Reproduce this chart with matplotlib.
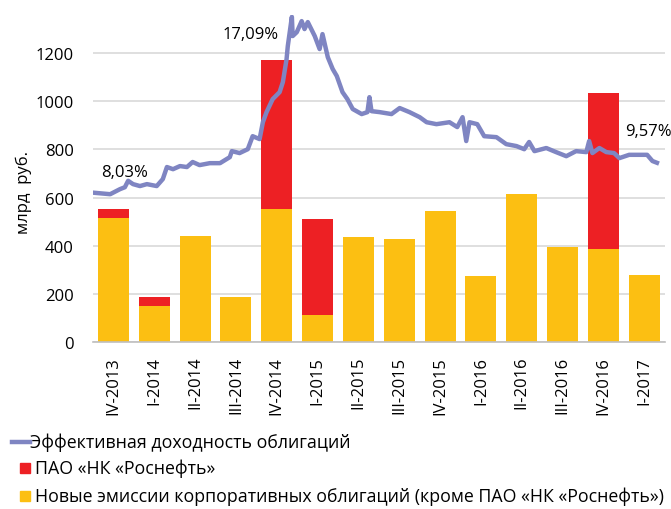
import matplotlib
matplotlib.use("Agg")
import matplotlib.pyplot as plt
from matplotlib.lines import Line2D
from matplotlib.patches import Rectangle

plt.rcParams['font.family'] = ['Open Sans', 'DejaVu Sans']

quarters = ["IV-2013", "I-2014", "II-2014", "III-2014", "IV-2014", "I-2015", "II-2015",
            "III-2015", "IV-2015", "I-2016", "II-2016", "III-2016", "IV-2016", "I-2017"]
new_issues = [514, 151, 439, 186, 551, 112, 434, 426, 545, 272, 613, 393, 386, 280]
rosneft = [40, 35, 0, 0, 622, 400, 0, 0, 0, 0, 0, 0, 650, 0]

# yield curve: position on the quarter axis, effective yield in %
yield_pos = [-0.50, -0.08, 0.16, 0.28, 0.36, 0.48, 0.65, 0.82, 1.06, 1.21, 1.31, 1.46, 1.63,
             1.80, 1.94, 2.11, 2.36, 2.61, 2.85, 2.90, 3.09, 3.29, 3.41, 3.58, 3.66, 3.75,
             3.90, 4.07, 4.15, 4.24, 4.27, 4.37, 4.39, 4.49, 4.61, 4.68, 4.76, 4.93, 5.05,
             5.12, 5.25, 5.37, 5.47, 5.61, 5.73, 5.86, 6.08, 6.22, 6.27, 6.32, 6.52, 6.81,
             7.01, 7.25, 7.50, 7.67, 7.91, 8.23, 8.42, 8.55, 8.64, 8.72, 8.91, 9.08, 9.38,
             9.62, 9.87, 10.06, 10.18, 10.31, 10.60, 10.84, 11.09, 11.33, 11.58, 11.65,
             11.73, 11.90, 12.07, 12.26, 12.39, 12.63, 13.07, 13.20, 13.31]
yield_pct = [8.03, 7.95, 8.21, 8.31, 8.64, 8.47, 8.37, 8.47, 8.37, 8.73, 9.35, 9.24, 9.40,
             9.35, 9.61, 9.45, 9.55, 9.55, 9.86, 10.17, 10.07, 10.27, 10.94, 10.79, 11.66,
             12.18, 12.85, 13.21, 13.73, 14.91, 15.58, 17.09, 16.10, 16.30, 16.87, 16.46,
             16.82, 16.10, 15.43, 16.20, 15.01, 14.40, 14.04, 13.21, 12.85, 12.34, 12.08,
             12.18, 12.95, 12.23, 12.18, 12.08, 12.39, 12.18, 11.92, 11.66, 11.56, 11.66,
             11.41, 11.92, 10.69, 11.66, 11.56, 10.94, 10.89, 10.53, 10.43, 10.27, 10.64,
             10.17, 10.33, 10.12, 9.91, 10.17, 10.12, 10.69, 10.07, 10.33, 10.12, 10.07,
             9.81, 9.98, 9.98, 9.66, 9.57]
yield_labels = {0: "8,03%", 31: "17,09%", len(yield_pct) - 1: "9,57%"}

YELLOW = "#FCBF12"
RED = "#ED2024"
LINE = "#7F85C2"
GRID = "#D9D9D9"

fig = plt.figure(figsize=(6.71, 5.10), dpi=100)
ax = fig.add_axes([0.1386, 0.3275, 0.852, 0.642])

x = range(len(quarters))
ax.bar(x, new_issues, width=0.76, color=YELLOW, linewidth=0, zorder=2)
ax.bar(x, rosneft, width=0.76, bottom=new_issues, color=RED, linewidth=0, zorder=2)

ax.set_xlim(-0.5, len(quarters) - 0.5)
ax.set_ylim(0, 1360)
ax.set_yticks(range(0, 1201, 200))
ax.yaxis.grid(True, color=GRID, linewidth=1.2, zorder=0)
ax.set_axisbelow(True)
for s in ["top", "right", "left"]:
    ax.spines[s].set_visible(False)
ax.spines["bottom"].set_color("#BFBFBF")
ax.spines["bottom"].set_linewidth(1.2)
ax.tick_params(axis="both", length=0, labelsize=12, colors="#000000")
ax.set_xticks(list(x))
ax.set_xticklabels(quarters, rotation=90, fontsize=12)
ax.tick_params(axis="x", pad=10)
ax.tick_params(axis="y", pad=14)
ax.set_ylabel("млрд  руб.", fontsize=12)
ax.yaxis.set_label_coords(-0.107, 0.46)

# yield on a hidden secondary scale
ax2 = ax.twinx()
a, b = 80.6, -27.0
ax2.set_ylim((0 - b) / a, (1360 - b) / a)
ax2.axis("off")
ax2.plot(yield_pos, yield_pct, color=LINE, linewidth=3.2, solid_joinstyle="round", zorder=3)
offsets = {0: (23, 15), 31: (-30, -12), len(yield_pct) - 1: (-6, 23)}
for i, txt in yield_labels.items():
    ax2.annotate(txt, (yield_pos[i], yield_pct[i]), xytext=offsets[i], textcoords="offset points",
                 ha="center", va="center", fontsize=12)

# legend drawn by hand in figure pixels
H = 510.0
def fy(py):
    return 1 - py / H

fig.add_artist(Line2D([12 / 671, 30 / 671], [fy(443), fy(443)], color=LINE, linewidth=3.2,
                      transform=fig.transFigure))
fig.add_artist(Rectangle((20 / 671, fy(474)), 10 / 671, 10 / H, color=RED,
                         transform=fig.transFigure))
fig.add_artist(Rectangle((20 / 671, fy(502)), 10 / 671, 10 / H, color=YELLOW,
                         transform=fig.transFigure))
fig.text(30 / 671, fy(443), "Эффективная доходность облигаций", fontsize=12.8, va="center")
fig.text(35 / 671, fy(469), "ПАО «НК «Роснефть»", fontsize=12.8, va="center")
fig.text(35 / 671, fy(497), "Новые эмиссии корпоративных облигаций (кроме ПАО «НК «Роснефть»)",
         fontsize=12.8, va="center")

fig.savefig("out.png", dpi=100)
